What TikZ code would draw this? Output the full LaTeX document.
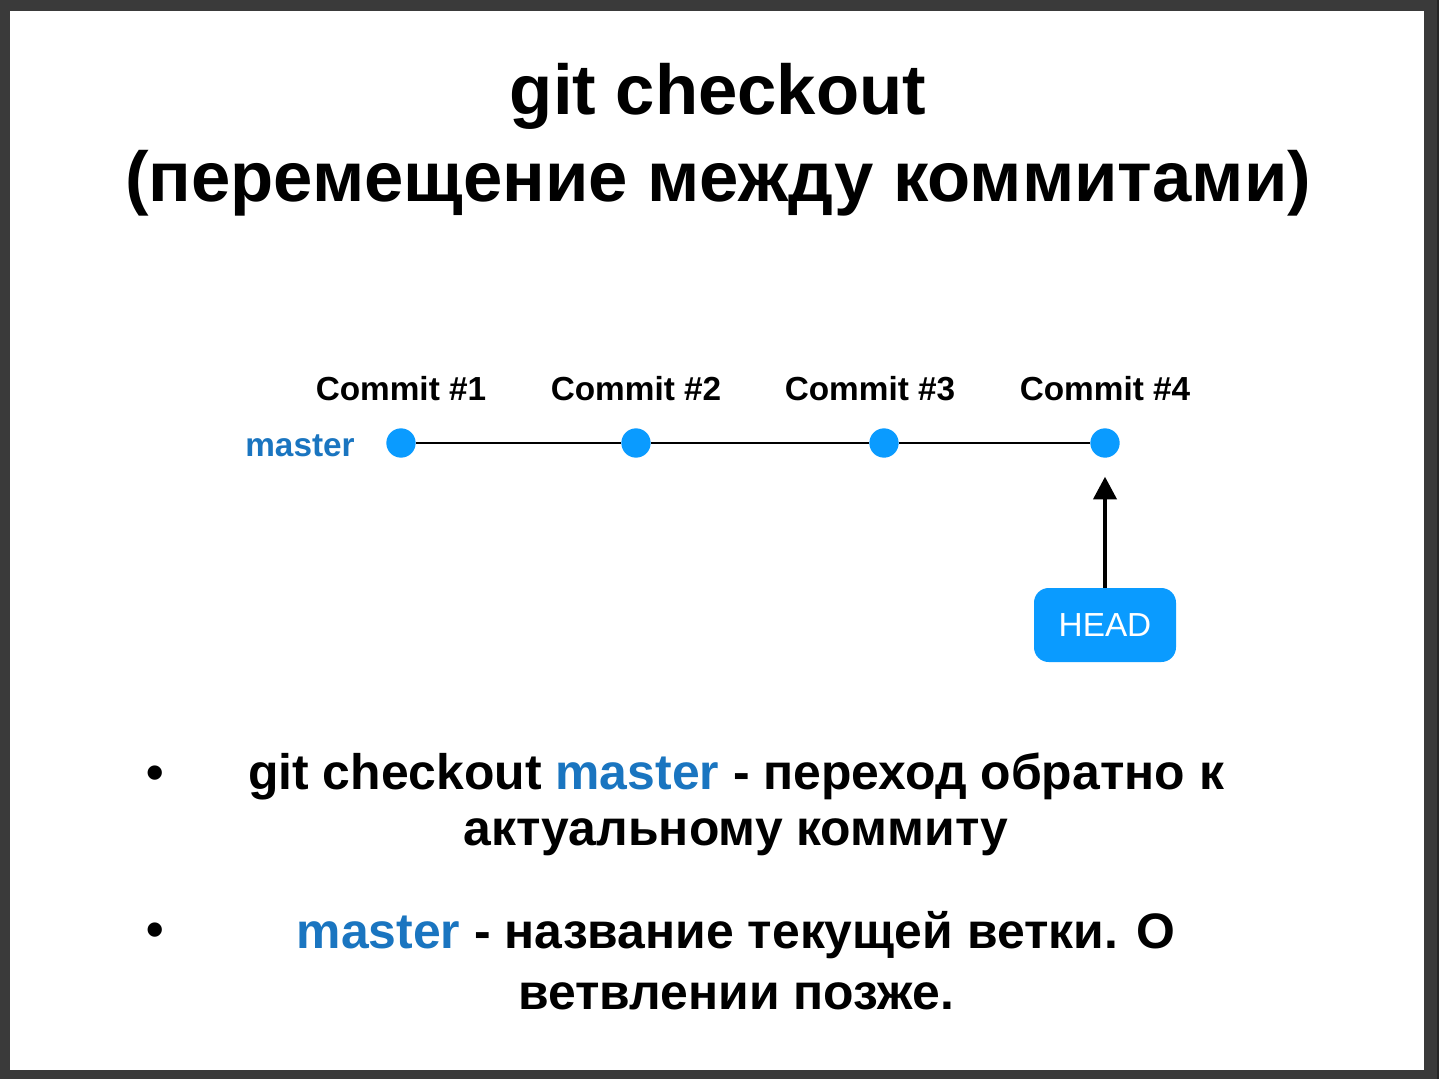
\documentclass[tikz,border=0pt]{standalone}
\usepackage{fontspec}
\setmainfont{Liberation Sans}
\usetikzlibrary{arrows.meta}
\definecolor{framegray}{HTML}{3A3A3A}
\definecolor{dotblue}{HTML}{0A9BFF}
\definecolor{txtblue}{HTML}{1A75C0}
\begin{document}
\begin{tikzpicture}[x=0.75pt,y=-0.75pt,
  titletext/.style={font=\fontsize{53}{60}\selectfont\bfseries, inner sep=0pt},
  committext/.style={font=\fontsize{25}{30}\selectfont\bfseries, inner sep=0pt},
  bullettext/.style={font=\fontsize{37.4}{44}\selectfont\bfseries, inner sep=0pt},
  commitdot/.style={circle, fill=dotblue, minimum size=22pt, inner sep=0pt},
  headbox/.style={rounded corners=11pt, fill=dotblue, minimum width=106.5pt, minimum height=55.5pt, text=white, font=\fontsize{25}{30}\selectfont},
  link/.style={line width=2.1pt, black}]
\fill[framegray] (0,0) rectangle (1439,1079);
\fill[white] (10,11) rectangle (1424,1070);
\fill[black!85] (1437,0) rectangle (1439,1079);
\node[titletext] (t1) at (718,96) {git checkout};
\node[titletext] (t2) at (718,183) {(перемещение между коммитами)};
\node[committext] (l1) at (401,389) {Commit \#1};
\node[committext] (l2) at (636,389) {Commit \#2};
\node[committext] (l3) at (870,389) {Commit \#3};
\node[committext] (l4) at (1105,389) {Commit \#4};
\node[committext, text=txtblue] (m) at (300,446) {master};
\node[commitdot] (c1) at (401,443) {};
\node[commitdot] (c2) at (636,443) {};
\node[commitdot] (c3) at (884,443) {};
\node[commitdot] (c4) at (1105,443) {};
\draw[link] (c1) -- (c2);
\draw[link] (c2) -- (c3);
\draw[link] (c3) -- (c4);
\node[headbox] (h) at (1105,625) {HEAD};
\draw[line width=3.5pt, -{Triangle[length=17pt,width=17pt]}, shorten >=14pt] (h.north) -- (c4.south);
\node[bullettext] (b1) at (155,778) {•};
\node[bullettext] (b2) at (155,935) {•};
\node[bullettext] (p1) at (736,776) {git checkout \textcolor{txtblue}{master} - переход обратно к};
\node[bullettext] (p2) at (736,837) {актуальному коммиту};
\node[bullettext] (p3) at (736,935) {\textcolor{txtblue}{master} - название текущей ветки. О};
\node[bullettext] (p4) at (736,996) {ветвлении позже.};
\end{tikzpicture}
\end{document}
